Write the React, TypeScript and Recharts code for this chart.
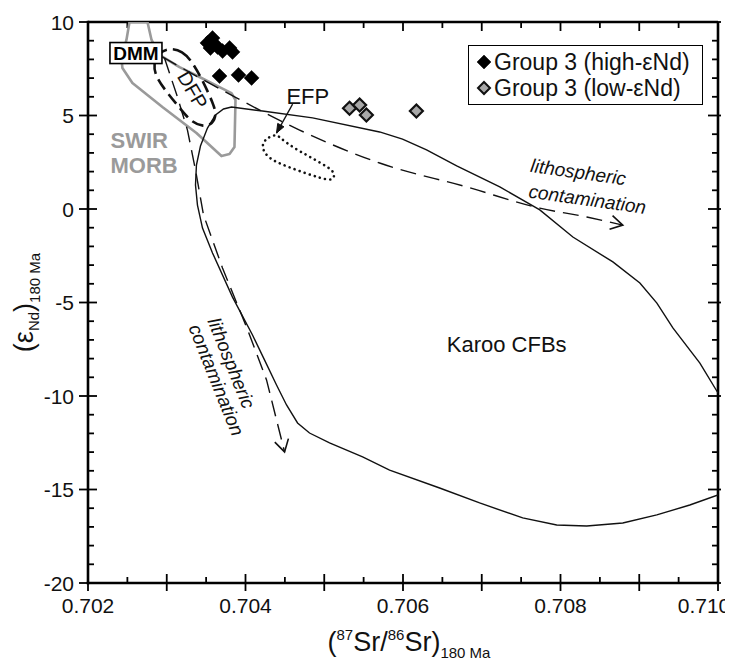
import React from 'react';
import { ScatterChart, Scatter, XAxis, YAxis, Legend, ReferenceLine } from 'recharts';

const FONT = '"Liberation Sans", Arial, Helvetica, sans-serif';

// ---------- axes ----------
const xTicks = [0.702, 0.7025, 0.703, 0.7035, 0.704, 0.7045, 0.705, 0.7055, 0.706, 0.7065, 0.707, 0.7075, 0.708, 0.7085, 0.709, 0.7095, 0.71];
const xLabelTicks = [0.702, 0.704, 0.706, 0.708, 0.71];
const yTicks = [-20, -19, -18, -17, -16, -15, -14, -13, -12, -11, -10, -9, -8, -7, -6, -5, -4, -3, -2, -1, 0, 1, 2, 3, 4, 5, 6, 7, 8, 9, 10];
const yLabelTicks = [-20, -15, -10, -5, 0, 5, 10];
const xDomain = [0.702, 0.71];
const yDomain = [-20, 10];

// ---------- data ----------
const seriesNames = ['Group 3 (high-εNd)', 'Group 3 (low-εNd)'];

const highEnd = [
  { x: 0.703517, y: 8.88 },
  { x: 0.703581, y: 9.14 },
  { x: 0.703555, y: 8.61 },
  { x: 0.703645, y: 8.66 },
  { x: 0.703709, y: 8.45 },
  { x: 0.703798, y: 8.61 },
  { x: 0.703835, y: 8.40 },
  { x: 0.70367, y: 7.11 },
  { x: 0.703911, y: 7.17 },
  { x: 0.704077, y: 7.01 },
];

const lowEnd = [
  { x: 0.705321, y: 5.39 },
  { x: 0.705449, y: 5.56 },
  { x: 0.705535, y: 5.03 },
  { x: 0.70617, y: 5.24 },
];

const karooOutline = [
  { x: 0.71, y: -15.29 }, { x: 0.709642, y: -15.83 }, { x: 0.709223, y: -16.36 },
  { x: 0.708791, y: -16.79 }, { x: 0.708333, y: -16.95 }, { x: 0.707952, y: -16.9 },
  { x: 0.70752, y: -16.52 }, { x: 0.706973, y: -15.72 }, { x: 0.706465, y: -14.92 },
  { x: 0.70583, y: -13.96 }, { x: 0.705487, y: -13.26 }, { x: 0.705067, y: -12.51 },
  { x: 0.704813, y: -11.98 }, { x: 0.704661, y: -11.44 }, { x: 0.704521, y: -10.48 },
  { x: 0.704394, y: -9.41 }, { x: 0.704241, y: -8.07 }, { x: 0.704089, y: -6.74 },
  { x: 0.703835, y: -4.71 }, { x: 0.703581, y: -2.35 }, { x: 0.703454, y: -1.02 },
  { x: 0.70339, y: 0.21 }, { x: 0.703365, y: 1.28 }, { x: 0.703377, y: 2.35 },
  { x: 0.703428, y: 3.37 }, { x: 0.703517, y: 4.33 }, { x: 0.703619, y: 5.03 },
  { x: 0.703721, y: 5.35 }, { x: 0.703822, y: 5.45 }, { x: 0.704216, y: 5.24 },
  { x: 0.704852, y: 4.87 }, { x: 0.705703, y: 4.12 }, { x: 0.705994, y: 3.74 },
  { x: 0.706299, y: 3.16 }, { x: 0.706682, y: 2.3 }, { x: 0.707229, y: 1.18 },
  { x: 0.707737, y: -0.05 }, { x: 0.708157, y: -1.5 }, { x: 0.708665, y: -2.83 },
  { x: 0.709008, y: -3.96 }, { x: 0.709224, y: -5.03 }, { x: 0.709427, y: -6.36 },
  { x: 0.70977, y: -8.24 }, { x: 0.71, y: -9.84 },
];

const swirMorb = [
  { x: 0.702527, y: 10 }, { x: 0.702755, y: 10 }, { x: 0.702807, y: 9.04 },
  { x: 0.702907, y: 8.24 }, { x: 0.703162, y: 7.59 }, { x: 0.703416, y: 7.06 },
  { x: 0.70367, y: 6.52 }, { x: 0.703822, y: 6.2 }, { x: 0.703873, y: 5.83 },
  { x: 0.70386, y: 3.32 }, { x: 0.703797, y: 2.94 }, { x: 0.703695, y: 2.83 },
  { x: 0.703377, y: 4.06 }, { x: 0.702945, y: 5.45 }, { x: 0.702564, y: 6.74 },
  { x: 0.702437, y: 7.54 }, { x: 0.702424, y: 8.07 }, { x: 0.702488, y: 9.04 },
  { x: 0.702527, y: 10 },
];

const dfpField = [
  { x: 0.703034, y: 8.61 }, { x: 0.7032, y: 8.45 }, { x: 0.703327, y: 7.86 },
  { x: 0.703466, y: 6.79 }, { x: 0.703593, y: 5.61 }, { x: 0.703632, y: 5.03 },
  { x: 0.703581, y: 4.55 }, { x: 0.703466, y: 4.39 }, { x: 0.703314, y: 4.65 },
  { x: 0.703187, y: 5.29 }, { x: 0.702996, y: 6.26 }, { x: 0.702856, y: 7.11 },
  { x: 0.702831, y: 7.75 }, { x: 0.702894, y: 8.34 },
];

const efpField = [
  { x: 0.704372, y: 4.01 }, { x: 0.704232, y: 3.69 }, { x: 0.704207, y: 3.26 },
  { x: 0.704283, y: 2.73 }, { x: 0.704499, y: 2.3 }, { x: 0.705008, y: 1.55 },
  { x: 0.705122, y: 1.55 }, { x: 0.705135, y: 1.98 }, { x: 0.705008, y: 2.35 },
  { x: 0.704563, y: 3.37 }, { x: 0.704436, y: 3.85 },
];

const trendRight = [
  { x: 0.702945, y: 8.13 }, { x: 0.703886, y: 5.94 }, { x: 0.704687, y: 4.22 },
  { x: 0.705703, y: 2.46 }, { x: 0.706809, y: 1.18 }, { x: 0.707736, y: 0.05 },
  { x: 0.708334, y: -0.43 }, { x: 0.708791, y: -0.86 },
];
const trendRightHead = [
  { x: 0.708661, y: -0.35 }, { x: 0.708791, y: -0.86 }, { x: 0.708623, y: -1.08 },
];

const trendDown = [
  { x: 0.702971, y: 8.07 }, { x: 0.703136, y: 5.99 }, { x: 0.703263, y: 4.22 },
  { x: 0.703365, y: 2.09 }, { x: 0.703467, y: -0.32 }, { x: 0.703708, y: -3.16 },
  { x: 0.704013, y: -6.31 }, { x: 0.704267, y: -9.14 }, { x: 0.704496, y: -12.99 },
];
const trendDownHead = [
  { x: 0.704372, y: -12.47 }, { x: 0.704496, y: -12.99 }, { x: 0.704545, y: -12.28 },
];

const efpPointer = [{ x: 0.704598, y: 5.61 }, { x: 0.704394, y: 4.06 }];
const efpPointerHead = [
  { x: 0.704394, y: 4.064 }, { x: 0.704488, y: 4.396 }, { x: 0.704409, y: 4.578 },
];

// annotation anchors (data space)
const dmmAnchor = [{ x: 0.702609, y: 8.34 }];
const dfpAnchor = [{ x: 0.703327, y: 6.36 }];
const efpAnchor = [{ x: 0.704791, y: 6.04 }];
const karooAnchor = [{ x: 0.707317, y: -7.22 }];
const swirAnchor = [{ x: 0.702286, y: 3.26 }];
const morbAnchor = [{ x: 0.702286, y: 1.93 }];
const lithoRight1 = [{ x: 0.708227, y: 1.98 }];
const lithoRight2 = [{ x: 0.708342, y: 0.53 }];
const lithoLeft1 = [{ x: 0.703822, y: -8.24 }];
const lithoLeft2 = [{ x: 0.703632, y: -9.14 }];

// ---------- helpers ----------
const near = (a: number, b: number) => Math.abs(a - b) < 1e-9;
const isFullX = (v: number) => Math.abs(v * 1000 - Math.round(v * 1000)) < 1e-6;
const INK = '#000';
const TW = 1.8;

function BottomTickLabel(props: any) {
  const { x, y, payload } = props;
  const v = payload.value;
  const labeled = xLabelTicks.some((t) => near(t, v));
  if (!labeled) return <g />;
  const last = near(v, xLabelTicks[xLabelTicks.length - 1]);
  return (
    <text x={last ? x - 14 : x} y={y + 30} textAnchor="middle" fontSize={21} fontFamily={FONT} fill="#111">
      {v.toFixed(3)}
    </text>
  );
}

function LeftTickLabel(props: any) {
  const { x, y, payload } = props;
  const v = payload.value;
  if (!yLabelTicks.includes(v)) return <g />;
  return (
    <text x={x - 14} y={y} dy="0.36em" textAnchor="end" fontSize={21} fontFamily={FONT} fill="#111">
      {v}
    </text>
  );
}

// tick marks drawn along the reference line spanning the plot (pixels come from the scale)
const xTickShape = (v: number) => (p: any) => {
  const x = p.x1;
  const top = Math.min(p.y1, p.y2);
  const bot = Math.max(p.y1, p.y2);
  const full = isFullX(v);
  return (
    <g>
      <line x1={x} x2={x} y1={top} y2={top + (full ? 9 : 6)} stroke={INK} strokeWidth={TW} />
      <line x1={x} x2={x} y1={bot - (full ? 9 : 6)} y2={bot + (full ? 8 : 0)} stroke={INK} strokeWidth={TW} />
    </g>
  );
};

const yTickShape = (v: number) => (p: any) => {
  const y = p.y1;
  const left = Math.min(p.x1, p.x2);
  const right = Math.max(p.x1, p.x2);
  const major = v % 5 === 0;
  return (
    <g>
      <line x1={left - (major ? 9 : 0)} x2={left + (major ? 9 : 6)} y1={y} y2={y} stroke={INK} strokeWidth={TW} />
      <line x1={right - (major ? 10 : 6)} x2={right + (major ? 3 : 0)} y1={y} y2={y} stroke={INK} strokeWidth={TW} />
    </g>
  );
};

function XTitle(props: any) {
  const vb = props.viewBox || { x: 80, y: 575, width: 630, height: 86 };
  const cx = vb.x + vb.width / 2 + 6;
  const cy = vb.y + 68;
  return (
    <text x={cx} y={cy} textAnchor="middle" fontFamily={FONT} fontSize={27} fill="#111">
      <tspan>(</tspan>
      <tspan fontSize={15} dy={-11}>87</tspan>
      <tspan dy={11}>Sr/</tspan>
      <tspan fontSize={15} dy={-11}>86</tspan>
      <tspan dy={11}>Sr)</tspan>
      <tspan fontSize={15} dy={7}>180 Ma</tspan>
    </text>
  );
}

function YTitle(props: any) {
  const vb = props.viewBox || { x: 0, y: 14, width: 80, height: 561 };
  const cx = vb.x + 25;
  const cy = vb.y + vb.height / 2;
  return (
    <text x={cx} y={cy} transform={`rotate(-90, ${cx}, ${cy})`} textAnchor="middle" fontFamily={FONT} fontSize={27} fill="#111">
      <tspan>(ε</tspan>
      <tspan fontSize={15} dy={6}>Nd</tspan>
      <tspan dy={-6}>)</tspan>
      <tspan fontSize={15} dy={7}>180 Ma</tspan>
    </text>
  );
}

const diamondPath = (cx: number, cy: number, r: number) =>
  `M${cx},${cy - r}L${cx + r},${cy}L${cx},${cy + r}L${cx - r},${cy}Z`;

const BlackDiamond = (p: any) => <path d={diamondPath(p.cx, p.cy, 7.5)} fill="#000" stroke="#000" strokeWidth={0.5} />;
const GrayDiamond = (p: any) => <path d={diamondPath(p.cx, p.cy, 6.5)} fill="#a8a8a8" stroke="#111" strokeWidth={2.2} />;
const NoDot = () => <g />;

const textShape = (label: string, opts: any) => (p: any) => (
  <text
    x={p.cx}
    y={p.cy}
    textAnchor={opts.anchor || 'middle'}
    dy={opts.dy ?? '0.35em'}
    fontFamily={FONT}
    fontSize={opts.size || 21}
    fontWeight={opts.weight || 'normal'}
    fontStyle={opts.italic ? 'italic' : 'normal'}
    fill={opts.color || '#111'}
    transform={opts.rotate ? `rotate(${opts.rotate}, ${p.cx}, ${p.cy})` : undefined}
  >
    {label}
  </text>
);

const DmmBox = (p: any) => (
  <g>
    <rect x={p.cx - 26} y={p.cy - 10.5} width={52} height={21} fill="#fff" stroke="#000" strokeWidth={1.6} />
    <text x={p.cx} y={p.cy} dy="0.36em" textAnchor="middle" fontFamily={FONT} fontSize={19} fontWeight="bold" fill="#000">DMM</text>
  </g>
);

function LegendBox(props: any) {
  const items = (props.payload || []).filter((e: any) => seriesNames.includes(e.value));
  return (
    <div
      style={{
        border: '1.5px solid #000',
        background: '#fff',
        width: 235,
        height: 60,
        boxSizing: 'border-box',
        padding: '3px 0 0 7px',
        fontFamily: FONT,
        fontSize: 23,
        lineHeight: '26px',
        color: '#111',
      }}
    >
      {items.map((e: any, i: number) => (
        <div key={i} style={{ display: 'flex', alignItems: 'center', whiteSpace: 'nowrap' }}>
          <svg width={16} height={16} style={{ marginRight: 2 }}>
            <path
              d={diamondPath(8, 8, i === 0 ? 7 : 6)}
              fill={i === 0 ? '#000' : '#a8a8a8'}
              stroke={i === 0 ? '#000' : '#111'}
              strokeWidth={i === 0 ? 0.5 : 2}
            />
          </svg>
          <span>{e.value}</span>
        </div>
      ))}
    </div>
  );
}

const axisLine = { stroke: '#000', strokeWidth: 2.6, strokeLinecap: 'square' as const };
const ids = { xAxisId: 'b', yAxisId: 'l' };
const common = { ...ids, isAnimationActive: false };

export default function App() {
  return (
    <ScatterChart width={725} height={661} margin={{ top: 14, right: 15, bottom: 0, left: 0 }}>
      <XAxis
        xAxisId="b"
        type="number"
        dataKey="x"
        domain={xDomain}
        allowDataOverflow
        ticks={xTicks}
        interval={0}
        tickSize={0}
        tickMargin={0}
        tickLine={false}
        axisLine={axisLine}
        tick={BottomTickLabel}
        height={86}
        label={{ content: XTitle }}
      />
      <YAxis
        yAxisId="l"
        type="number"
        dataKey="y"
        domain={yDomain}
        allowDataOverflow
        ticks={yTicks}
        interval={0}
        tickSize={0}
        tickMargin={0}
        tickLine={false}
        axisLine={axisLine}
        tick={LeftTickLabel}
        width={80}
        label={{ content: YTitle }}
      />

      {/* frame: top and right edges */}
      <ReferenceLine {...ids} y={yDomain[1]} stroke="#000" strokeWidth={2.6} ifOverflow="visible" />
      <ReferenceLine {...ids} x={xDomain[1]} stroke="#000" strokeWidth={2.6} ifOverflow="visible" />

      {xTicks.map((v) => (
        <ReferenceLine key={`xt${v}`} {...ids} x={v} ifOverflow="visible" shape={xTickShape(v)} />
      ))}
      {yTicks.map((v) => (
        <ReferenceLine key={`yt${v}`} {...ids} y={v} ifOverflow="visible" shape={yTickShape(v)} />
      ))}

      <Scatter {...common} name="swir" data={swirMorb} legendType="none" shape={NoDot} fill="none"
        line={{ stroke: '#9a9a9a', strokeWidth: 2.6, strokeLinejoin: 'round' }} lineJointType="linear" />
      <Scatter {...common} name="karoo" data={karooOutline} legendType="none" shape={NoDot} fill="none"
        line={{ stroke: '#111', strokeWidth: 1.4 }} lineJointType="linear" />
      <Scatter {...common} name="trendR" data={trendRight} legendType="none" shape={NoDot} fill="none"
        line={{ stroke: '#111', strokeWidth: 1.4, strokeDasharray: '16 8' }} lineJointType="monotone" />
      <Scatter {...common} name="trendRH" data={trendRightHead} legendType="none" shape={NoDot} fill="none"
        line={{ stroke: '#111', strokeWidth: 1.6 }} lineJointType="linear" />
      <Scatter {...common} name="trendD" data={trendDown} legendType="none" shape={NoDot} fill="none"
        line={{ stroke: '#111', strokeWidth: 1.4, strokeDasharray: '16 8' }} lineJointType="linear" />
      <Scatter {...common} name="trendDH" data={trendDownHead} legendType="none" shape={NoDot} fill="none"
        line={{ stroke: '#111', strokeWidth: 1.6 }} lineJointType="linear" />
      <Scatter {...common} name="dfp" data={dfpField} legendType="none" shape={NoDot} fill="none"
        line={{ stroke: '#111', strokeWidth: 2.6, strokeDasharray: '12 6' }} lineJointType="basisClosed" />
      <Scatter {...common} name="efp" data={efpField} legendType="none" shape={NoDot} fill="none"
        line={{ stroke: '#111', strokeWidth: 2.6, strokeDasharray: '0.1 5.2', strokeLinecap: 'round' }} lineJointType="basisClosed" />
      <Scatter {...common} name="efpPtr" data={efpPointer} legendType="none" shape={NoDot} fill="none"
        line={{ stroke: '#111', strokeWidth: 1.3 }} lineJointType="linear" />
      <Scatter {...common} name="efpPtrH" data={efpPointerHead} legendType="none" shape={NoDot} fill="none"
        line={{ stroke: '#111', fill: '#111', strokeWidth: 1 }} lineJointType="linearClosed" />

      <Scatter {...common} name="dmm" data={dmmAnchor} legendType="none" shape={DmmBox} />
      <Scatter {...common} name="dfpL" data={dfpAnchor} legendType="none" shape={textShape('DFP', { size: 20, rotate: 60 })} />
      <Scatter {...common} name="efpL" data={efpAnchor} legendType="none" shape={textShape('EFP', { size: 22 })} />
      <Scatter {...common} name="karooL" data={karooAnchor} legendType="none" shape={textShape('Karoo CFBs', { size: 22 })} />
      <Scatter {...common} name="swirL" data={swirAnchor} legendType="none" shape={textShape('SWIR', { size: 22, weight: 'bold', color: '#9a9a9a', anchor: 'start', dy: 0 })} />
      <Scatter {...common} name="morbL" data={morbAnchor} legendType="none" shape={textShape('MORB', { size: 22, weight: 'bold', color: '#9a9a9a', anchor: 'start', dy: 0 })} />
      <Scatter {...common} name="lr1" data={lithoRight1} legendType="none" shape={textShape('lithospheric', { size: 19, italic: true, rotate: 8 })} />
      <Scatter {...common} name="lr2" data={lithoRight2} legendType="none" shape={textShape('contamination', { size: 19, italic: true, rotate: 8 })} />
      <Scatter {...common} name="ll1" data={lithoLeft1} legendType="none" shape={textShape('lithospheric', { size: 19, italic: true, rotate: 68 })} />
      <Scatter {...common} name="ll2" data={lithoLeft2} legendType="none" shape={textShape('contamination', { size: 19, italic: true, rotate: 68 })} />

      <Scatter {...common} name={seriesNames[0]} data={highEnd} fill="#000" shape={BlackDiamond} />
      <Scatter {...common} name={seriesNames[1]} data={lowEnd} fill="#a8a8a8" shape={GrayDiamond} />

      <Legend
        layout="vertical"
        align="center"
        verticalAlign="middle"
        wrapperStyle={{ left: 460, top: 37, width: 235 }}
        content={LegendBox}
      />
    </ScatterChart>
  );
}
